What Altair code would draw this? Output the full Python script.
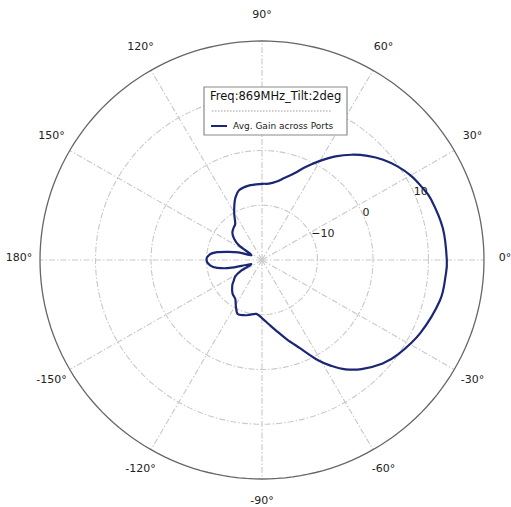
import numpy as np
import pandas as pd
import altair as alt

# Horizontal radiation pattern, azimuth in degrees (CCW from boresight) and gain in dBi
angle_deg = [
    -174, -170, -166, -162, -157, -152, -148, -143, -139, -131, -124, -119,
    -114, -108, -103, -96, -90, -84, -79, -73, -67, -61, -57, -53, -48, -41,
    -35, -25, -13, -5,
    0, 10, 20, 25, 30, 35, 40, 45, 50, 55, 60, 65, 70, 75, 80, 85, 90, 100,
    108, 113, 117, 121, 126, 131, 137, 142, 147, 153, 158, 162, 166, 170,
    174, 180,
]
gain_dbi = [
    -10.6, -11.8, -14.0, -17.2, -17.8, -15.5, -14.3, -13.6, -12.9, -11.9,
    -11.4, -10.3, -9.2, -9.4, -9.7, -10.1, -9.4, -8.2, -6.9, -4.9, -2.5, 1.0,
    3.1, 5.0, 6.8, 8.8, 10.0, 11.5, 12.9, 13.2,
    13.3, 13.1, 12.4, 11.7, 10.9, 9.8, 8.5, 6.9, 5.1, 3.1, 0.9, -1.2, -3.2,
    -4.5, -5.5, -6.0, -6.1, -6.2, -6.6, -7.7, -9.0, -10.3, -11.8, -12.2,
    -12.7, -13.6, -15.0, -17.7, -17.5, -15.5, -13.8, -11.8, -10.5, -10.0,
]

# Radial axis: centre at -20 dBi, outer edge at 20 dBi
r_min = -20
r_max = 20
ring_levels = [-10, 0, 10]
ring_labels = ["\u221210", "0", "10"]
spoke_angles = [0, 30, 60, 90, 120, 150, 180, 210, 240, 270, 300, 330]
spoke_labels = ["0°", "30°", "60°", "90°", "120°", "150°", "180°",
                "-150°", "-120°", "-90°", "-60°", "-30°"]

legend_title = "Freq:869MHz_Tilt:2deg"
series_name = "Avg. Gain across Ports"

SPAN = r_max - r_min
LINE_COLOR = "#1b2675"
GRID_COLOR = "#c9c9c9"
FONT = "DejaVu Sans"

xs = alt.Scale(domain=[-SPAN, SPAN], nice=False, zero=False)
ys = alt.Scale(domain=[-SPAN, SPAN], nice=False, zero=False)


def polar_xy(chart, r_expr, a_expr, xname="x", yname="y"):
    return chart.transform_calculate(
        **{
            xname: f"({r_expr}) * cos(({a_expr}) * PI / 180)",
            yname: f"({r_expr}) * sin(({a_expr}) * PI / 180)",
        }
    )


# Grid circles
theta_grid = np.arange(0, 361, 2)
ring_df = pd.DataFrame(
    [(lv, t) for lv in ring_levels for t in theta_grid], columns=["level", "t"]
)
outer_df = pd.DataFrame({"level": [r_max] * len(theta_grid), "t": theta_grid})

rings = polar_xy(
    alt.Chart(ring_df).mark_line(color=GRID_COLOR, strokeWidth=1.1,
                                 strokeDash=[6, 2, 1.5, 2]),
    f"datum.level - ({r_min})", "datum.t",
).encode(
    x=alt.X("x:Q", scale=xs, axis=None),
    y=alt.Y("y:Q", scale=ys, axis=None),
    detail="level:N",
    order="t:Q",
)

outer = polar_xy(
    alt.Chart(outer_df).mark_line(color="#666666", strokeWidth=1.3),
    f"datum.level - ({r_min})", "datum.t",
).encode(
    x=alt.X("x:Q", scale=xs, axis=None),
    y=alt.Y("y:Q", scale=ys, axis=None),
    order="t:Q",
)

# Spokes every 30 degrees
spoke_df = pd.DataFrame({"a": spoke_angles, "label": spoke_labels})
spokes = alt.Chart(spoke_df).mark_rule(
    color=GRID_COLOR, strokeWidth=1.1, strokeDash=[6, 2, 1.5, 2]
).transform_calculate(
    x0="0", y0="0",
    x1=f"{SPAN} * cos(datum.a * PI / 180)",
    y1=f"{SPAN} * sin(datum.a * PI / 180)",
).encode(
    x=alt.X("x0:Q", scale=xs, axis=None),
    y=alt.Y("y0:Q", scale=ys, axis=None),
    x2="x1:Q",
    y2="y1:Q",
)

# Angle labels just outside the outer circle
angle_text = alt.Chart(spoke_df).mark_text(
    font=FONT, fontSize=11, color="#222222",
    align="center", baseline="middle", dy=-2,
).transform_calculate(
    x=f"{SPAN} * 1.095 * cos(datum.a * PI / 180)",
    y=f"{SPAN} * 1.11 * sin(datum.a * PI / 180)",
).encode(
    x=alt.X("x:Q", scale=xs, axis=None),
    y=alt.Y("y:Q", scale=ys, axis=None),
    text="label:N",
)

# Radial tick labels along 22.5 degrees
rlab_df = pd.DataFrame({"level": ring_levels, "label": ring_labels})
ring_text = polar_xy(
    alt.Chart(rlab_df).mark_text(font=FONT, fontSize=11, color="#222222",
                                 align="left", baseline="bottom", dx=-2),
    f"datum.level - ({r_min})", "22.5",
).encode(
    x=alt.X("x:Q", scale=xs, axis=None),
    y=alt.Y("y:Q", scale=ys, axis=None),
    text="label:N",
)

# Pattern trace
pat_df = pd.DataFrame({"angle": angle_deg, "gain": gain_dbi})
pattern = polar_xy(
    alt.Chart(pat_df).mark_line(color=LINE_COLOR, strokeWidth=2.2,
                                interpolate="cardinal-closed"),
    f"datum.gain - ({r_min})", "datum.angle",
).encode(
    x=alt.X("x:Q", scale=xs, axis=None),
    y=alt.Y("y:Q", scale=ys, axis=None),
    order="angle:Q",
)

# Legend box (pixel positions inside the plot area)
leg_df = pd.DataFrame({"title": [legend_title], "name": [series_name]})
leg_box = alt.Chart(leg_df).mark_rect(
    fill="white", stroke="#8a8a8a", strokeWidth=1.2
).encode(
    x=alt.value(164), x2=alt.value(307), y=alt.value(46), y2=alt.value(94)
)
leg_title = alt.Chart(leg_df).mark_text(
    font=FONT, fontSize=11.5, color="#111111", align="left", baseline="middle"
).encode(x=alt.value(170), y=alt.value(56), text="title:N")
leg_sep = alt.Chart(leg_df).mark_rule(
    color="#9a9a9a", strokeWidth=1, strokeDash=[1.5, 1.5]
).encode(x=alt.value(172), x2=alt.value(292), y=alt.value(70))
leg_swatch = alt.Chart(leg_df).mark_rule(
    color=LINE_COLOR, strokeWidth=2
).encode(x=alt.value(171), x2=alt.value(187), y=alt.value(85))
leg_name = alt.Chart(leg_df).mark_text(
    font=FONT, fontSize=9, color="#222222", align="left", baseline="middle"
).encode(x=alt.value(193), y=alt.value(85), text="name:N")

chart = alt.layer(
    rings, spokes, outer, pattern, ring_text, angle_text,
    leg_box, leg_title, leg_sep, leg_swatch, leg_name,
).properties(
    width=444, height=438,
    autosize=alt.AutoSizeParams(type="none"),
    padding={"left": 40, "top": 41, "right": 27, "bottom": 28},
    background="white",
).configure_view(stroke=None)

chart.save("out.html", embed_options={"renderer": "svg", "actions": False})
